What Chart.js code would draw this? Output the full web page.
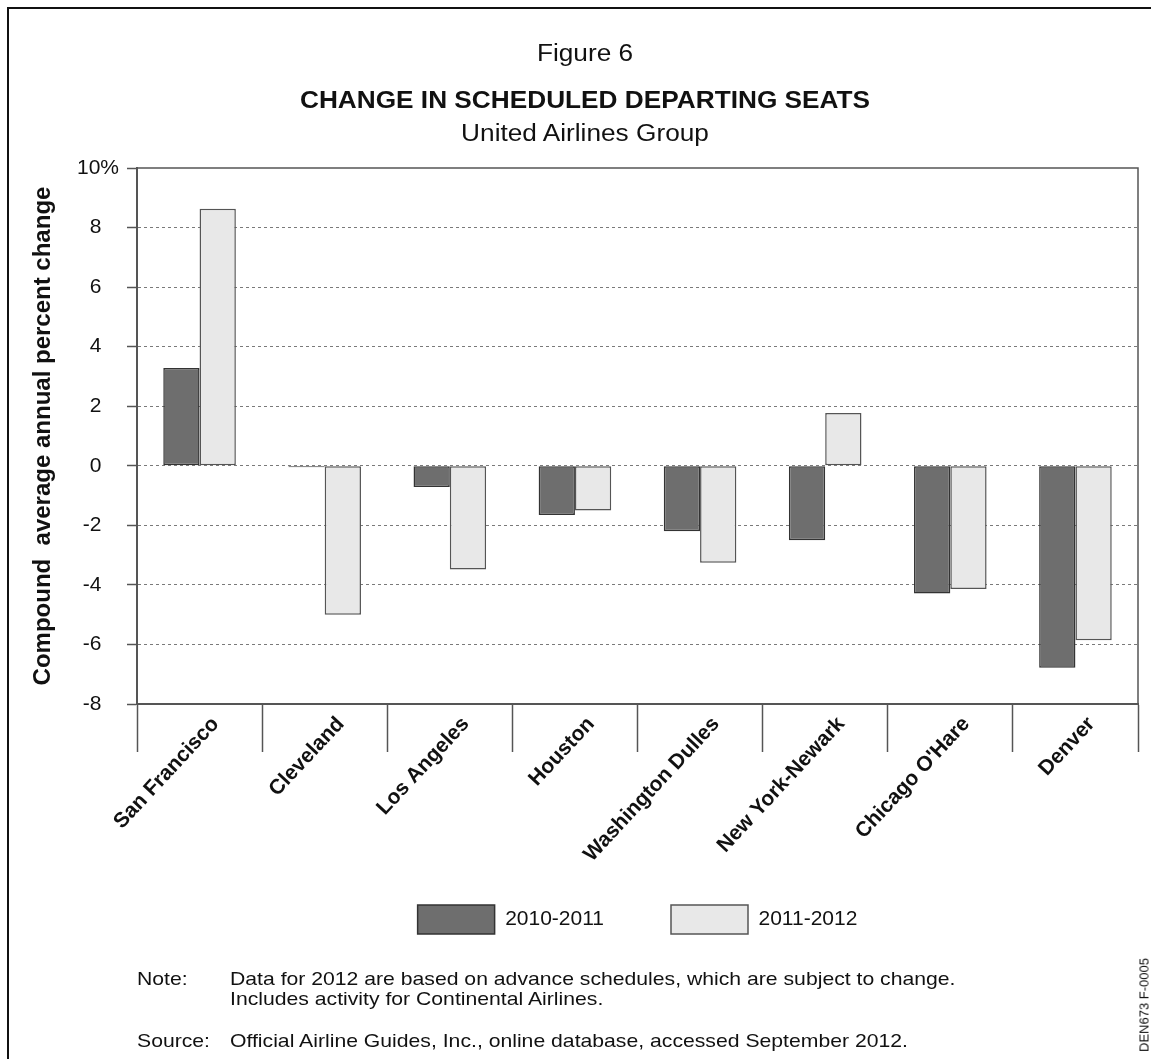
<!DOCTYPE html>
<html>
<head>
<meta charset="utf-8">
<title>Change in Scheduled Departing Seats</title>
<script src="https://cdn.jsdelivr.net/npm/chart.js@4.4.1/dist/chart.umd.min.js"></script>
<style>
  html, body { margin: 0; padding: 0; background: #fff; }
  #page { position: relative; width: 1151px; height: 1059px; overflow: hidden;
          font-family: "Liberation Sans", Arial, Helvetica, sans-serif; color: #111; }
  #frame { position: absolute; left: 7px; top: 7px; right: -10px; bottom: -10px;
           border-top: 2px solid #111; border-left: 2px solid #111; }
  #chartBox { position: absolute; left: 0; top: 0; width: 1151px; height: 1059px; }
  .t { position: absolute; left: 0; width: 1170px; text-align: center; line-height: 1;
       white-space: nowrap; transform: scaleX(1.14); transform-origin: 585px 0; }
  .n { position: absolute; font-size: 19px; line-height: 1; white-space: nowrap;
       transform: scaleX(1.115); transform-origin: 0 0; }
  #code { position: absolute; left: 1144px; top: 1005px; font-size: 13px; white-space: nowrap;
          transform: translate(-50%, -50%) rotate(-90deg); }
</style>
</head>
<body>
<div id="page">
  <div id="frame"></div>
  <div id="chartBox"><canvas id="seatsChart"></canvas></div>

  <div class="t" style="top:42px; font-size:23px;">Figure 6</div>
  <div class="t" style="top:89px; font-size:23px; font-weight:bold;">CHANGE IN SCHEDULED DEPARTING SEATS</div>
  <div class="t" style="top:122px; font-size:23px;">United Airlines Group</div>

  <div class="n" style="left:137px; top:969px;">Note:</div>
  <div class="n" style="left:230px; top:969px;">Data for 2012 are based on advance schedules, which are subject to change.</div>
  <div class="n" style="left:230px; top:989px;">Includes activity for Continental Airlines.</div>
  <div class="n" style="left:137px; top:1031px;">Source:</div>
  <div class="n" style="left:230px; top:1031px;">Official Airline Guides, Inc., online database, accessed September 2012.</div>

  <div id="code">DEN673 F-0005</div>
</div>

<script>
"use strict";

// Дані (%)
const airports = ['San Francisco', 'Cleveland', 'Los Angeles', 'Houston',
                  'Washington Dulles', 'New York-Newark', "Chicago O'Hare", 'Denver'];
const change2010_2011 = [3.28, -0.05, -0.71, -1.65, -2.2, -2.5, -4.29, -6.78];
const change2011_2012 = [8.63, -5.0, -3.48, -1.5, -3.26, 1.77, -4.14, -5.86];
const seriesNames = ['2010-2011', '2011-2012'];
const yMin = -8, yMax = 10, yStep = 2;

const FONT = '"Liberation Sans", Arial, Helvetica, sans-serif';
const AXIS = '#555';
const PLOT_BOTTOM = 704;   // нижня межа області графіка
const LEGEND_TOP = 838;

// рамка графіка зверху та справа; легенда центрується під областю графіка
const plotFrame = {
    id: 'plotFrame',
    afterLayout(chart) {
        const a = chart.chartArea;
        const lg = chart.legend;
        if (lg) {
            const h = lg.height;
            lg.left = a.left;
            lg.right = a.right;
            lg.width = a.right - a.left;
            lg.top = LEGEND_TOP;
            lg.bottom = LEGEND_TOP + h;
        }
    },
    afterDatasetsDraw(chart) {
        const a = chart.chartArea;
        const ctx = chart.ctx;
        ctx.save();
        ctx.strokeStyle = AXIS;
        ctx.lineWidth = 1.5;
        ctx.beginPath();
        ctx.moveTo(a.left, a.top);
        ctx.lineTo(a.right, a.top);
        ctx.lineTo(a.right, a.bottom);
        ctx.stroke();
        ctx.restore();
    }
};

new Chart(document.getElementById('seatsChart'), {
    type: 'bar',
    data: {
        labels: airports,
        datasets: [
            {
                label: seriesNames[0],
                data: change2010_2011,
                backgroundColor: '#6e6e6e',
                borderColor: '#333',
                borderWidth: 1.5,
                borderSkipped: false,
                barPercentage: 1,
                categoryPercentage: 0.58
            },
            {
                label: seriesNames[1],
                data: change2011_2012,
                backgroundColor: '#e8e8e8',
                borderColor: '#555',
                borderWidth: 1.5,
                borderSkipped: false,
                barPercentage: 1,
                categoryPercentage: 0.58
            }
        ]
    },
    options: {
        responsive: true,
        maintainAspectRatio: false,
        animation: false,
        layout: { padding: { left: 29, right: 13, top: 168, bottom: 0 } },
        scales: {
            x: {
                offset: true,
                afterFit: s => {
                    const lh = s.chart.legend ? s.chart.legend.height : 0;
                    s.height = 1059 - PLOT_BOTTOM - lh;
                },
                grid: {
                    offset: true,
                    drawOnChartArea: false,
                    drawTicks: true,
                    tickLength: 48,
                    tickColor: AXIS,
                    tickWidth: 1.5
                },
                border: { color: AXIS, width: 2 },
                ticks: {
                    autoSkip: false,
                    minRotation: 47,
                    maxRotation: 47,
                    padding: -40,
                    labelOffset: 16,
                    color: '#111',
                    font: { family: FONT, size: 21, weight: 'bold' }
                }
            },
            y: {
                min: yMin,
                max: yMax,
                afterFit: s => { s.width = 137 - 29; },
                grid: {
                    color: c => (c.tick && (c.tick.value === yMax || c.tick.value === yMin)) ? 'rgba(0,0,0,0)' : '#7a7a7a',
                    lineWidth: 1,
                    tickLength: 10,
                    tickColor: AXIS,
                    tickWidth: 1.5,
                    tickBorderDash: []
                },
                border: { color: AXIS, width: 2, dash: [3, 3] },
                ticks: {
                    stepSize: yStep,
                    padding: 8,
                    color: '#111',
                    font: { family: FONT, size: 21 },
                    callback: v => v === yMax ? v + '%' : v + '   '
                },
                title: {
                    display: true,
                    text: 'Compound  average annual percent change',
                    color: '#111',
                    padding: 0,
                    font: { family: FONT, size: 24, weight: 'bold' }
                }
            }
        },
        plugins: {
            legend: {
                position: 'bottom',
                align: 'center',
                labels: {
                    boxWidth: 77,
                    boxHeight: 29,
                    padding: 67,
                    color: '#111',
                    font: { family: FONT, size: 21 }
                }
            },
            tooltip: { enabled: false }
        }
    },
    plugins: [plotFrame]
});
</script>
</body>
</html>
